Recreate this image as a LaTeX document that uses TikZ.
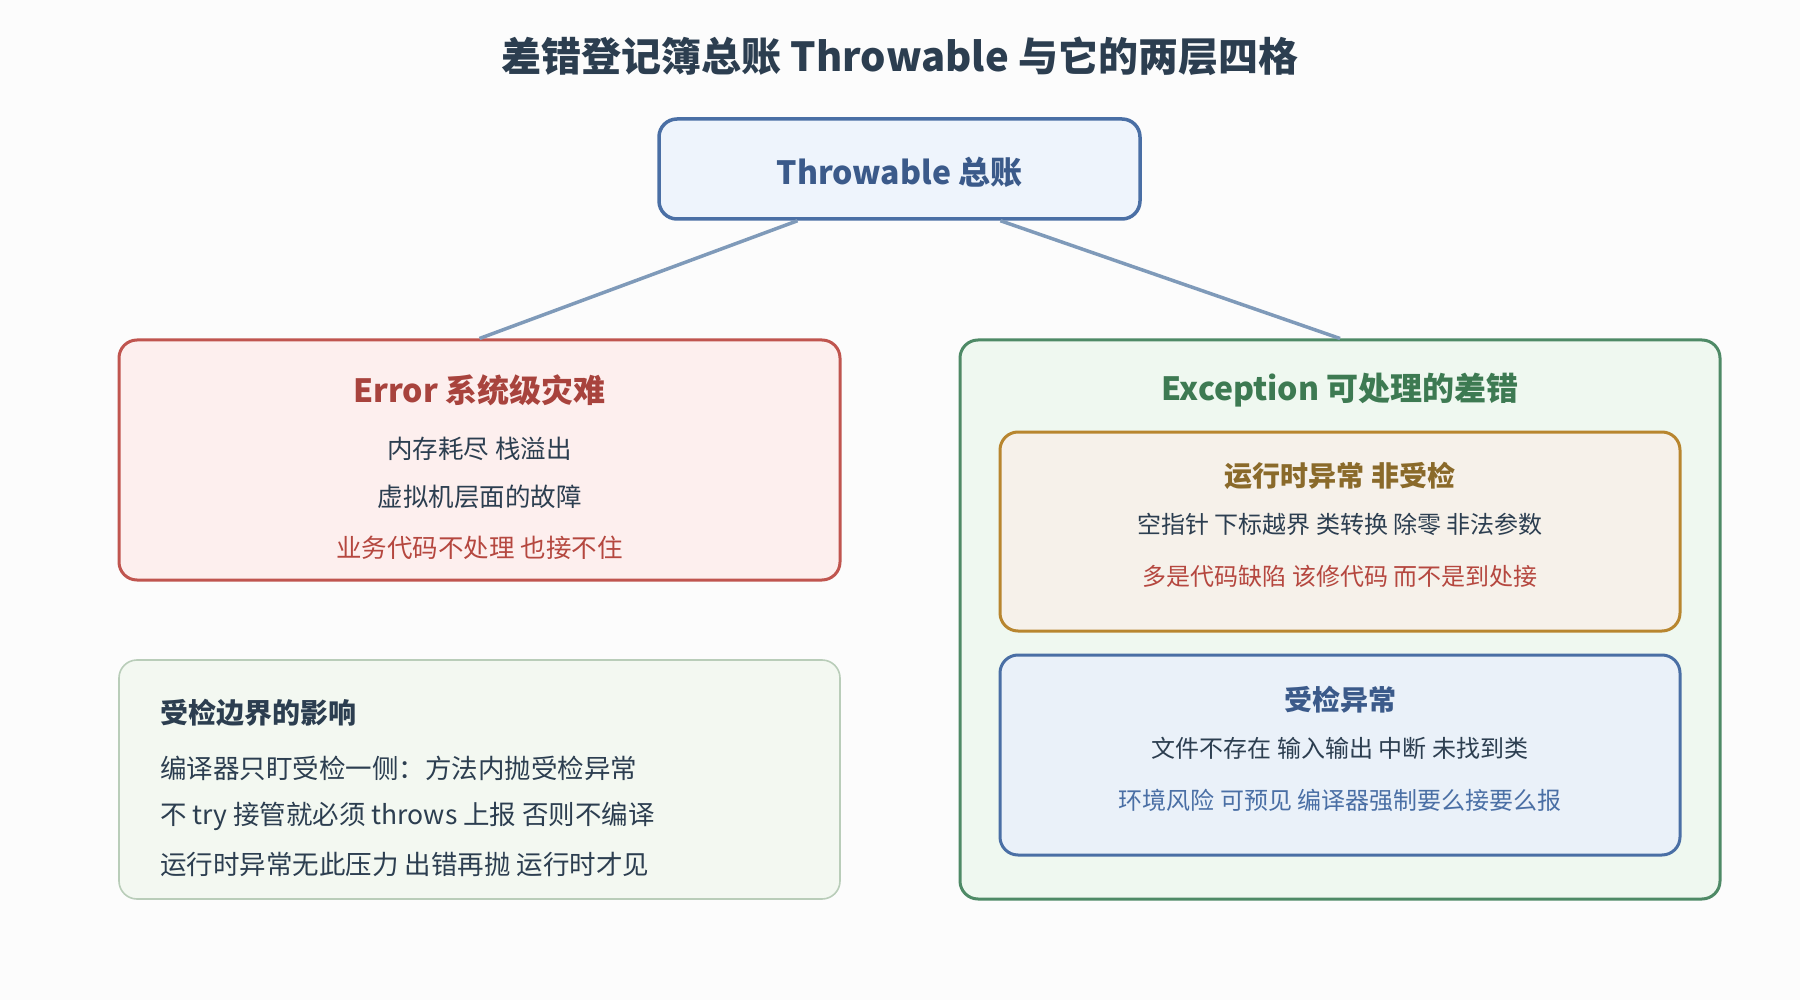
\documentclass[tikz,border=0pt]{standalone}
\usepackage{fontspec}
\setmainfont{Noto Sans CJK SC}
\usetikzlibrary{calc}
\definecolor{bgc}{HTML}{FCFCFC}
\definecolor{ink}{HTML}{2C3E50}
\definecolor{thrfill}{HTML}{EEF4FC}
\definecolor{blueline}{HTML}{4A6FA5}
\definecolor{bluetext}{HTML}{3B5A8A}
\definecolor{conn}{HTML}{7F9AB9}
\definecolor{errfill}{HTML}{FDEFEE}
\definecolor{errline}{HTML}{C0554F}
\definecolor{errtext}{HTML}{A8433D}
\definecolor{redtext}{HTML}{B5473F}
\definecolor{excfill}{HTML}{EFF8F0}
\definecolor{excline}{HTML}{4E8A66}
\definecolor{exctext}{HTML}{3D7A52}
\definecolor{rtfill}{HTML}{F6F1EA}
\definecolor{rtline}{HTML}{B8862F}
\definecolor{rttext}{HTML}{8A6A2A}
\definecolor{chkfill}{HTML}{EAF1F9}
\definecolor{notefill}{HTML}{F3F8F1}
\definecolor{noteline}{HTML}{B9CDB9}
\tikzset{
  boxbase/.style={rounded corners=18pt, inner sep=0pt},
  thrbox/.style={boxbase, draw=blueline, fill=thrfill, line width=3.5pt},
  errbox/.style={boxbase, draw=errline, fill=errfill, line width=3pt},
  excbox/.style={boxbase, draw=excline, fill=excfill, line width=3pt},
  rtbox/.style={boxbase, draw=rtline, fill=rtfill, line width=3pt},
  chkbox/.style={boxbase, draw=blueline, fill=chkfill, line width=3pt},
  notebox/.style={boxbase, draw=noteline, fill=notefill, line width=1.6pt},
  connector/.style={draw=conn, line width=3.5pt},
  bigtitle/.style={font=\fontsize{40}{48}\selectfont\bfseries, text=ink, inner sep=0pt},
  headA/.style={font=\fontsize{32}{38}\selectfont\bfseries, inner sep=0pt},
  headB/.style={font=\fontsize{28}{34}\selectfont\bfseries, inner sep=0pt},
  bodyA/.style={font=\fontsize{25.5}{30}\selectfont, inner sep=0pt},
  bodyN/.style={font=\fontsize{26.5}{31}\selectfont, inner sep=0pt},
  bodyB/.style={font=\fontsize{24}{29}\selectfont, inner sep=0pt},
}
\begin{document}
\begin{tikzpicture}[x=1pt,y=-1pt]
\fill[bgc] (0,0) rectangle (1800,1000);
\useasboundingbox (0,0) rectangle (1800,1000);

\node[bigtitle] (title) at (900,56) {差错登记簿总账 Throwable 与它的两层四格};

% top box
\node[thrbox, minimum width=481pt, minimum height=100pt] (thr) at (899.5,169) {};
\node[headA, text=bluetext] (thrlabel) at (899.5,172) {Throwable 总账};

% Error box
\node[errbox, minimum width=721pt, minimum height=240pt] (err) at (479.5,460) {};
\node[headA, text=errtext] (errtitle) at (479.5,390) {Error 系统级灾难};
\node[bodyA, text=ink] (err1) at (479.5,449) {内存耗尽 栈溢出};
\node[bodyA, text=ink] (err2) at (479.5,497) {虚拟机层面的故障};
\node[bodyA, text=redtext] (err3) at (479.5,548) {业务代码不处理 也接不住};

% Exception box
\node[excbox, minimum width=760pt, minimum height=559pt] (exc) at (1340,619.5) {};
\node[headA, text=exctext] (exctitle) at (1340,390) {Exception 可处理的差错};

% runtime box
\node[rtbox, minimum width=680pt, minimum height=199pt] (rt) at (1340,531.5) {};
\node[headB, text=rttext] (rttitle) at (1340,475.5) {运行时异常 非受检};
\node[bodyB, text=ink] (rt1) at (1340,524.5) {空指针 下标越界 类转换 除零 非法参数};
\node[bodyB, text=redtext] (rt2) at (1340,576.5) {多是代码缺陷 该修代码 而不是到处接};

% checked box
\node[chkbox, minimum width=680pt, minimum height=200pt] (chk) at (1340,755) {};
\node[headB, text=bluetext] (chktitle) at (1340,699.5) {受检异常};
\node[bodyB, text=ink] (chk1) at (1340,748.5) {文件不存在 输入输出 中断 未找到类};
\node[bodyB, text=blueline] (chk2) at (1340,800.5) {环境风险 可预见 编译器强制要么接要么报};

% note box
\node[notebox, minimum width=721pt, minimum height=239pt] (note) at (479.5,779.5) {};
\node[headB, text=ink, anchor=west] (notetitle) at (160,712.5) {受检边界的影响};
\node[bodyN, text=ink, anchor=west] (note1) at (160,768) {编译器只盯受检一侧：方法内抛受检异常};
\node[bodyN, text=ink, anchor=west] (note2) at (160,816) {不 try 接管就必须 throws 上报 否则不编译};
\node[bodyN, text=ink, anchor=west] (note3) at (160,864) {运行时异常无此压力 出错再抛 运行时才见};

% connectors
\draw[connector] ($(thr.south)+(-102,0)$) -- (err.north);
\draw[connector] ($(thr.south)+(101,0)$) -- (exc.north);
\end{tikzpicture}
\end{document}
